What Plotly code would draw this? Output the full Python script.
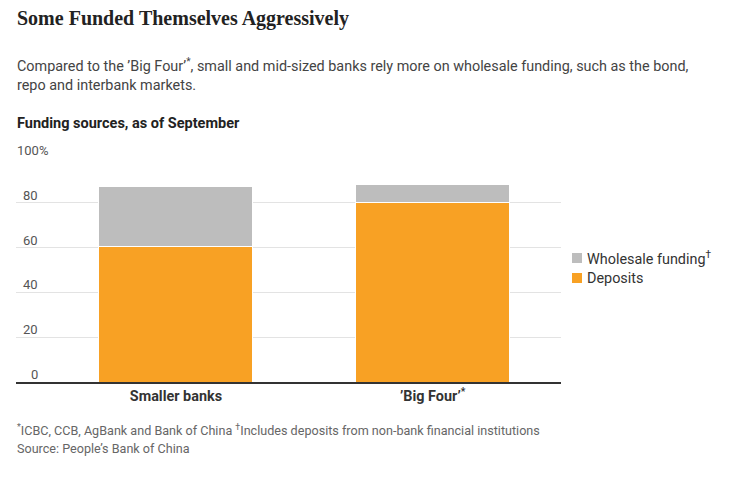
import plotly.graph_objects as go

categories = ["Smaller banks", "’Big Four’<sup>*</sup>"]
deposits = [60.6, 80.3]
wholesale = [26.5, 7.7]
y_ticks = [0, 20, 40, 60, 80, 100]
legend_labels = ["Wholesale funding<sup>†</sup>", "Deposits"]

ORANGE = "#F8A124"
GRAY = "#BDBDBD"
SANS = "Roboto, Noto Sans, sans-serif"

fig = go.Figure()
fig.add_trace(go.Bar(
    x=[0, 1], y=deposits, name="Deposits", width=0.6,
    marker=dict(color=ORANGE, line=dict(color="white", width=1)),
))
fig.add_trace(go.Bar(
    x=[0, 1], y=wholesale, name="Wholesale funding", width=0.6,
    marker=dict(color=GRAY, line=dict(color="white", width=1)),
))

FIG_W, FIG_H = 747, 471  # page offset of 8px (body margin) is compensated

fig.update_layout(
    width=FIG_W, height=FIG_H,
    margin=dict(l=8, r=194, t=149, b=97),
    barmode="stack",
    plot_bgcolor="white", paper_bgcolor="white",
    font=dict(family=SANS, size=14, color="#333"),
    showlegend=False,
    title=dict(
        text="<b>Some Funded Themselves Aggressively</b>",
        font=dict(family="Liberation Serif, DejaVu Serif, serif", size=20, color="#222"),
        xref="container", yref="container",
        x=(17 - 8) / FIG_W, xanchor="left",
        y=1 - (18 - 8) / FIG_H, yanchor="middle",
        pad=dict(t=0, b=0, l=0, r=0),
    ),
    xaxis=dict(
        range=[-0.623, 1.5], tickmode="array", tickvals=[0, 1],
        ticktext=[f"<b>{c}</b>" for c in categories],
        showgrid=False, zeroline=False, showline=True, linecolor="#333", linewidth=1.5,
        ticks="", tickfont=dict(size=14.4, color="#333"),
        fixedrange=True,
    ),
    yaxis=dict(
        range=[0, 100.4], tickmode="array", tickvals=y_ticks, showticklabels=False,
        showgrid=True, gridcolor="#E3E3E3", gridwidth=1, zeroline=False, ticks="",
        fixedrange=True,
    ),
)

def px_x(px):
    return (px - 16) / 545

def px_y(py):
    return (382 - py) / 225

# y tick labels above the gridlines
for v in y_ticks:
    if v == 100:
        fig.add_annotation(x=px_x(15), xref="paper", y=v, yref="y", text="100%",
                           xanchor="left", yanchor="bottom", showarrow=False,
                           font=dict(size=13, color="#555"), yshift=-2)
    else:
        fig.add_annotation(x=px_x(40), xref="paper", y=v, yref="y", text=str(v),
                           xanchor="right", yanchor="bottom", showarrow=False,
                           font=dict(size=13, color="#555"), yshift=-2)

def add_text(px, py, text, size, color, family=SANS):
    fig.add_annotation(
        x=px_x(px - 2), y=px_y(py), xref="paper", yref="paper",
        text=text, showarrow=False, xanchor="left", yanchor="middle", align="left",
        font=dict(size=size, color=color, family=family),
    )

add_text(17, 65, "Compared to the ’Big Four’<sup>*</sup>, small and mid-sized banks rely more on wholesale funding, such as the bond,", 14.4, "#444")
add_text(17, 86, "repo and interbank markets.", 14.4, "#444")
add_text(17, 124, "<b>Funding sources, as of September</b>", 14.5, "#222")
add_text(17, 430, "<sup>*</sup>ICBC, CCB, AgBank and Bank of China <sup>†</sup>Includes deposits from non-bank financial institutions", 12.6, "#666")
add_text(17, 448, "Source: People’s Bank of China", 12.6, "#666")

# manual legend
legend_colors = [GRAY, ORANGE]
legend_y = [258, 278]
for lab, col, ly in zip(legend_labels, legend_colors, legend_y):
    fig.add_shape(type="rect", xref="paper", yref="paper",
                  x0=px_x(572), x1=px_x(582), y0=px_y(ly + 5), y1=px_y(ly - 5),
                  fillcolor=col, line=dict(width=0))
    add_text(587, ly, lab, 14.4, "#333")

fig.write_html("out.html")
